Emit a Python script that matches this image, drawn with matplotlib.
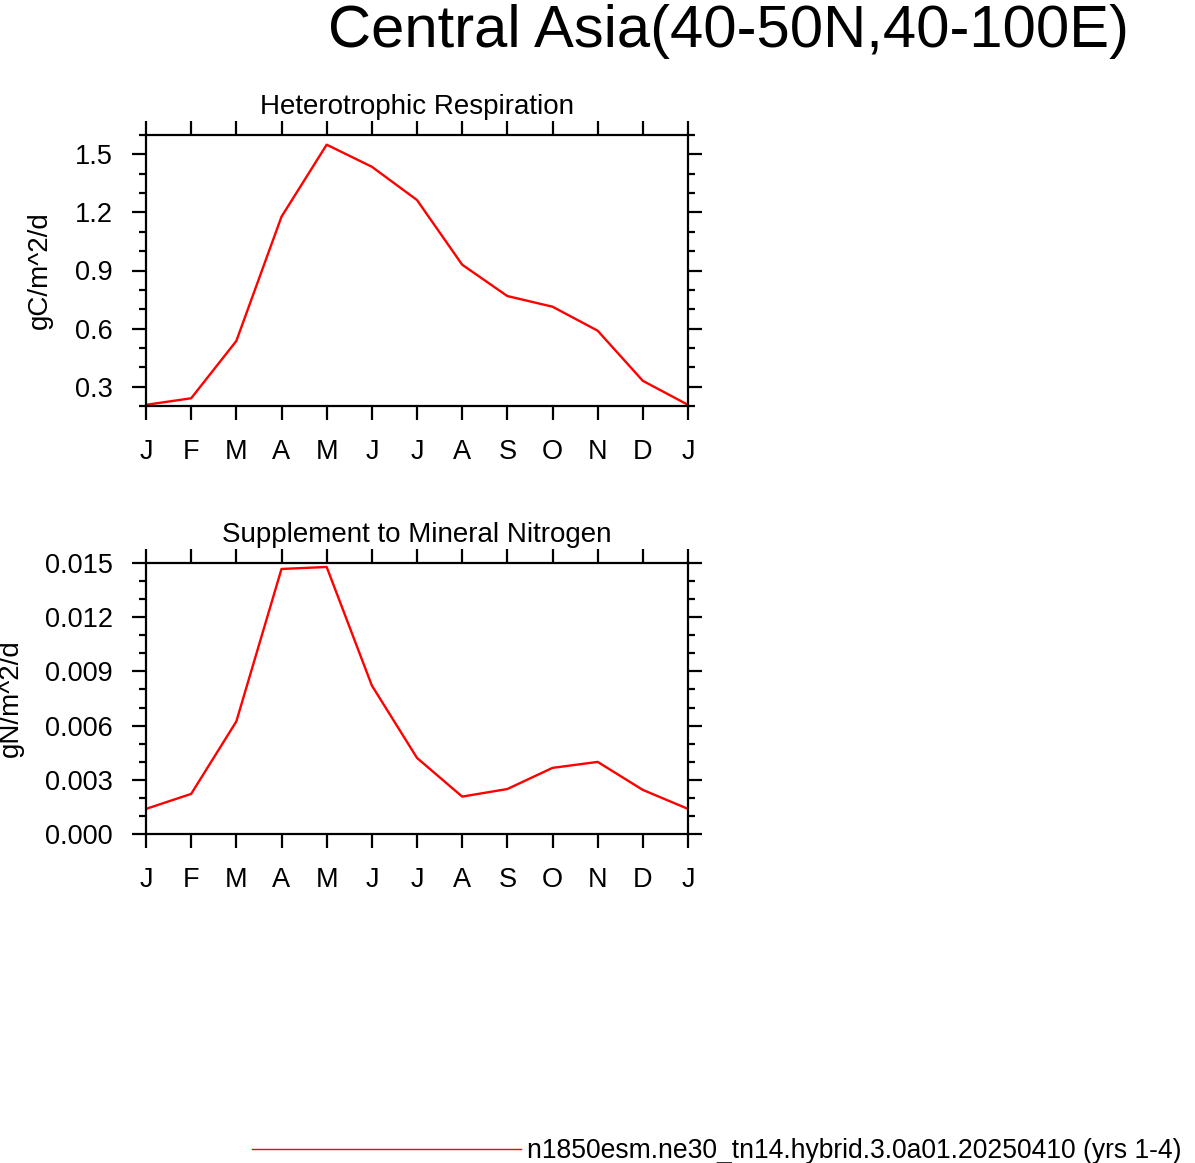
import matplotlib
matplotlib.use("Agg")
from matplotlib import pyplot as plt
from matplotlib.lines import Line2D
from matplotlib.ticker import MultipleLocator, FormatStrFormatter

plt.rcParams['font.family'] = ['Liberation Sans', 'DejaVu Sans']

# monthly climatology, Jan..Dec plus Jan repeated at the end
months = list(range(13))
month_labels = ['J', 'F', 'M', 'A', 'M', 'J', 'J', 'A', 'S', 'O', 'N', 'D', 'J']

hr = [0.206, 0.240, 0.536, 1.178, 1.550, 1.436, 1.264,
      0.930, 0.768, 0.713, 0.589, 0.330, 0.206]
sminn = [0.00139, 0.00222, 0.00623, 0.01467, 0.01478, 0.00822, 0.00421,
         0.00207, 0.00249, 0.00366, 0.00399, 0.00244, 0.00139]

case_name = 'n1850esm.ne30_tn14.hybrid.3.0a01.20250410 (yrs 1-4)'
region = 'Central Asia(40-50N,40-100E)'

W, H = 1195, 1163
fig = plt.figure(figsize=(W / 100, H / 100), dpi=100)


def panel(top_px, values, title, ylabel, ylim, major, minor, fmt, label_x):
    ax = fig.add_axes([146 / W, 1 - (top_px + 271) / H, 542 / W, 271 / H])
    ax.plot(months, values, color='red', lw=1.7)
    ax.set_xlim(0, 12)
    ax.set_ylim(*ylim)
    ax.set_xticks(months)
    ax.set_xticklabels(month_labels)
    ax.yaxis.set_major_locator(MultipleLocator(major))
    ax.yaxis.set_minor_locator(MultipleLocator(minor))
    ax.yaxis.set_major_formatter(FormatStrFormatter(fmt))
    ax.tick_params(which='both', direction='out', top=True, right=True,
                   width=1.6, labelsize=19.5, pad=14)
    ax.tick_params(which='major', length=10)
    ax.tick_params(which='minor', length=5)
    for s in ax.spines.values():
        s.set_linewidth(1.6)
    ax.text(0.5, 1 + 21 / 271, title, transform=ax.transAxes,
            ha='center', va='baseline', fontsize=20)
    ax.set_ylabel(ylabel, fontsize=20, va='center')
    ax.yaxis.set_label_coords(label_x, 0.5)
    return ax


panel(135, hr, 'Heterotrophic Respiration', 'gC/m^2/d',
      (0.2, 1.6), 0.3, 0.1, '%.1f', -0.195)
panel(563, sminn, 'Supplement to Mineral Nitrogen', 'gN/m^2/d',
      (0.0, 0.015), 0.003, 0.001, '%.3f', -0.249)

fig.text(728.5 / W, 1 - 47 / H, region, ha='center', va='baseline', fontsize=43)

handle = Line2D([], [], color='red', lw=1.0)
fig.legend(handles=[handle], labels=[case_name], loc='center left',
           bbox_to_anchor=(252 / W, 1 - 1151 / H), frameon=False,
           fontsize=19.1, handlelength=10.15, handletextpad=0.22,
           borderpad=0, borderaxespad=0)

plt.savefig('out.png', dpi=100)
plt.close()
